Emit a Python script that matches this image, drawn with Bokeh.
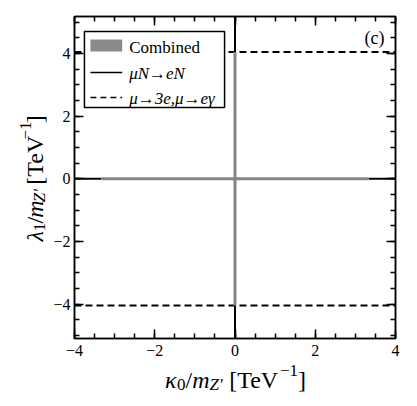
import math
from bokeh.plotting import figure
from bokeh.layouts import column, row
from bokeh.models import Range1d, LinearAxis, FixedTicker, Label, ColumnDataSource
from bokeh.core.properties import value
from bokeh.embed import file_html
from bokeh.resources import INLINE

# ---------------- data ----------------
x_major = [-4, -2, 0, 2, 4]
x_major_labels = ["−4", "−2", "0", "2", "4"]
x_minor = [-4, -3.5, -3, -2.5, -2, -1.5, -1, -0.5, 0, 0.5, 1, 1.5, 2, 2.5, 3, 3.5, 4]
y_major = [-4, -2, 0, 2, 4]
y_major_labels = ["−4", "−2", "0", "2", "4"]
y_minor = [-5, -4.5, -4, -3.5, -3, -2.5, -2, -1.5, -1, -0.5, 0, 0.5, 1, 1.5,
           2, 2.5, 3, 3.5, 4, 4.5, 5]

# Combined allowed region (thin cross)
combined_k0 = [-3.33, 0.0]
combined_k1 = [3.33, 0.0]
combined_l0 = [0.0, -4.05]
combined_l1 = [0.0, 4.05]

# mu N -> e N boundary (solid)
mueN_k0 = [-4.0, 3.33, 0.0, 0.0]
mueN_k1 = [-3.33, 4.0, 0.0, 0.0]
mueN_l0 = [0.0, 0.0, 4.05, -5.1]
mueN_l1 = [0.0, 0.0, 5.18, -4.05]

# mu -> 3e, mu -> e gamma boundary (dashed)
mu3e_k0 = [-4.0, -4.0]
mu3e_k1 = [4.0, 4.0]
mu3e_l = [4.05, -4.05]

legend_labels = ["Combined", "μN→eN", "μ→3e,μ→eγ"]
panel_tag = "(c)"

X_RANGE = (-4, 4)
Y_RANGE = (-5.1, 5.18)

# ---------------- layout (page px) ----------------
TOTAL_W, TOTAL_H = 409, 398
YL_W = 50            # width of the y-title strip
TOP_H = 361          # height of the main row
FL, FR, FT, FB = 72, 395, 16, 338   # frame edges in page px
BASE_FIX = 4         # renderer draws alphabetic baselines a little low
FONT = "Liberation Serif"
GRAY = "#858585"

P_W = TOTAL_W - YL_W
p = figure(width=P_W, height=TOP_H, x_range=Range1d(*X_RANGE), y_range=Range1d(*Y_RANGE),
           output_backend="svg", toolbar_location=None,
           min_border_left=FL - YL_W, min_border_right=TOTAL_W - FR,
           min_border_top=FT, min_border_bottom=TOP_H - FB)
p.grid.visible = False
p.outline_line_color = "black"
p.outline_line_width = 1.5


def style_axis(ax, show_labels):
    ax.axis_line_color = "black"
    ax.axis_line_width = 1.5
    ax.major_tick_line_width = 1.5
    ax.minor_tick_line_width = 1.5
    ax.major_tick_in = 9
    ax.major_tick_out = 0
    ax.minor_tick_in = 5
    ax.minor_tick_out = 0
    ax.major_label_text_font = FONT
    ax.major_label_text_color = "black"
    if show_labels:
        ax.major_label_text_font_size = "16px"
    else:
        ax.major_label_text_font_size = "0px"
        ax.major_label_standoff = 0


p.xaxis.ticker = FixedTicker(ticks=x_major, minor_ticks=x_minor)
p.yaxis.ticker = FixedTicker(ticks=y_major, minor_ticks=y_minor)
p.xaxis.major_label_overrides = dict(zip(x_major, x_major_labels))
p.yaxis.major_label_overrides = dict(zip(y_major, y_major_labels))
style_axis(p.xaxis[0], True)
style_axis(p.yaxis[0], True)
p.xaxis.major_label_standoff = 6
p.yaxis.major_label_standoff = 4

top = LinearAxis(ticker=FixedTicker(ticks=x_major, minor_ticks=x_minor))
style_axis(top, False)
top.major_label_overrides = {t: "" for t in x_major}
p.add_layout(top, "above")
right = LinearAxis(ticker=FixedTicker(ticks=y_major, minor_ticks=y_minor))
style_axis(right, False)
right.major_label_overrides = {t: "" for t in y_major}
p.add_layout(right, "right")


def dx(px):
    return X_RANGE[0] + (px - FL) / (FR - FL) * (X_RANGE[1] - X_RANGE[0])


def dy(py):
    return Y_RANGE[1] - (py - FT) / (FB - FT) * (Y_RANGE[1] - Y_RANGE[0])


# ---------------- curves ----------------
p.segment(x0=mu3e_k0, y0=mu3e_l, x1=mu3e_k1, y1=mu3e_l,
          line_color="black", line_width=2, line_dash="7 4")
p.segment(x0=mueN_k0, y0=mueN_l0, x1=mueN_k1, y1=mueN_l1,
          line_color="black", line_width=2)
p.segment(x0=combined_k0, y0=combined_l0, x1=combined_k1, y1=combined_l1,
          line_color=GRAY, line_width=3)

# ---------------- legend (drawn by hand) ----------------
p.quad(left=dx(82), right=dx(223), top=dy(31), bottom=dy(107),
       fill_color="white", line_color="black", line_width=1.5)
p.quad(left=dx(88), right=dx(120), top=dy(39), bottom=dy(51),
       fill_color="#8a8a8a", line_color=None)
p.segment(x0=[dx(88)], y0=[dy(72)], x1=[dx(120)], y1=[dy(72)],
          line_color="black", line_width=1.5)
p.segment(x0=[dx(88)], y0=[dy(97)], x1=[dx(120)], y1=[dy(97)],
          line_color="black", line_width=1.5, line_dash="6 4")

for txt, st, base in zip(legend_labels, ["normal", "italic", "italic"], [51, 77, 102]):
    p.add_layout(Label(x=dx(127), y=dy(base - BASE_FIX), text=txt, text_font=FONT,
                       text_font_size="17px", text_font_style=st,
                       text_baseline="alphabetic", text_align="left",
                       text_color="black"))

p.add_layout(Label(x=dx(384), y=dy(41 - BASE_FIX), text=panel_tag, text_font=FONT,
                   text_font_size="18px", text_baseline="alphabetic",
                   text_align="right", text_color="black"))

# ---------------- axis titles composed of runs ----------------
ROMAN = {' ': 250, '[': 333, ']': 333, 'T': 611, 'e': 444, 'V': 722, '0': 500,
         '1': 500, '/': 278, '−': 564}
ITALIC = {'κ': 500, 'λ': 480, 'm': 722, 'Z': 556, '′': 250}


def text_width(t, style, size):
    table = ITALIC if style == "italic" else ROMAN
    return sum(table.get(c, 500) for c in t) / 1000.0 * size


BIG, SMALL = 24, 17


def title_runs(greek, sub):
    return [
        (greek, BIG, "italic", 0),
        (sub, SMALL, "normal", -5),
        ("/", BIG, "normal", 0),
        ("m", BIG, "italic", 0),
        ("Z′", SMALL, "italic", -5),
        (" ", BIG, "normal", 0),
        ("[TeV", BIG, "normal", 0),
        ("−1", SMALL, "normal", 9),
        ("]", BIG, "normal", 0),
    ]


def strip_figure(w, h):
    f = figure(width=w, height=h, x_range=Range1d(0, w), y_range=Range1d(0, h),
               output_backend="svg", toolbar_location=None,
               min_border=0, min_border_left=0, min_border_right=0,
               min_border_top=0, min_border_bottom=0)
    f.axis.visible = False
    f.grid.visible = False
    f.outline_line_color = None
    return f


def runs_source(runs, center_px, base_px, vertical, page_top, page_left):
    xs, ys, texts, sizes, styles, angles = [], [], [], [], [], []
    total = sum(text_width(t, s, z) for t, z, s, _ in runs)
    pos = center_px + total / 2.0 if vertical else center_px - total / 2.0
    base_px = base_px - BASE_FIX if not vertical else base_px - BASE_FIX
    for t, z, s, shift in runs:
        w = text_width(t, s, z)
        if t.strip():
            if vertical:
                xs.append(base_px - shift - page_left)
                ys.append(page_top - pos)
                angles.append(math.pi / 2)
            else:
                xs.append(pos - page_left)
                ys.append(page_top - (base_px - shift))
                angles.append(0.0)
            texts.append(t)
            sizes.append(f"{z}px")
            styles.append(s)
        pos = pos - w if vertical else pos + w
    return ColumnDataSource(dict(x=xs, y=ys, text=texts, size=sizes,
                                 style=styles, angle=angles))


yfig = strip_figure(YL_W, TOP_H)
yfig.text(x="x", y="y", text="text", angle="angle", text_font=value(FONT),
          text_font_size="size", text_font_style="style", text_color="black",
          text_baseline="alphabetic", text_align="left",
          source=runs_source(title_runs("λ", "1"), 182, 38, True, TOP_H, 0))

XL_H = TOTAL_H - TOP_H
xfig = strip_figure(TOTAL_W, XL_H)
xfig.text(x="x", y="y", text="text", angle="angle", text_font=value(FONT),
          text_font_size="size", text_font_style="style", text_color="black",
          text_baseline="alphabetic", text_align="left",
          source=runs_source(title_runs("κ", "0"), 235, 383, False, TOTAL_H, 0))

layout = column(row(yfig, p, spacing=0), xfig, spacing=0)
open("out.html", "w").write(file_html(layout, INLINE))
